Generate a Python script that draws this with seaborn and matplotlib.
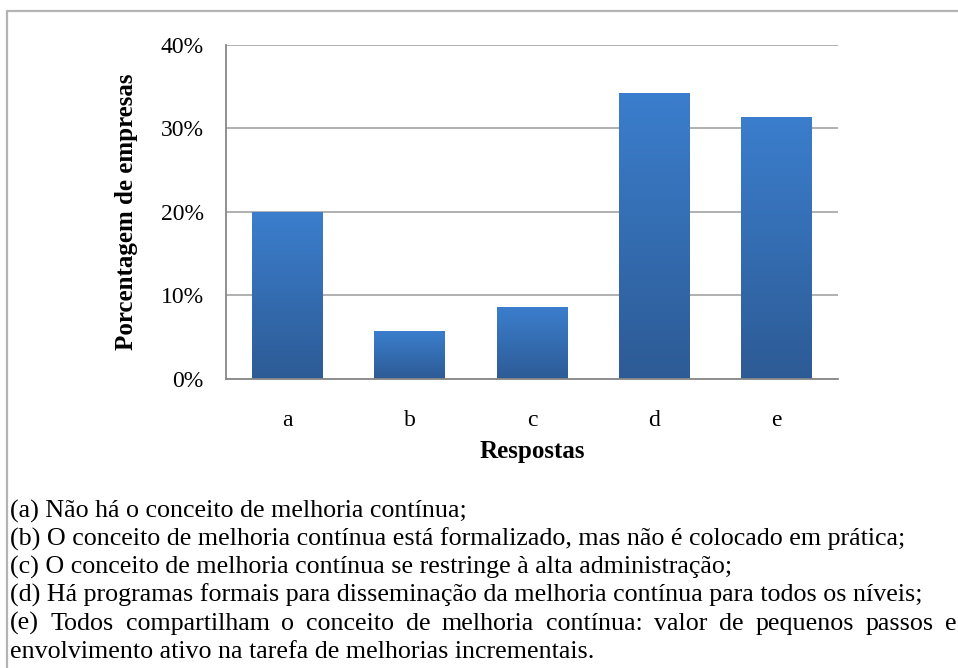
import numpy as np
import pandas as pd
import matplotlib
matplotlib.use("Agg")
import matplotlib.pyplot as plt
import seaborn as sns
from matplotlib.colors import LinearSegmentedColormap
from matplotlib.lines import Line2D
from matplotlib.ticker import FuncFormatter

# Dados do gráfico
respostas = ["a", "b", "c", "d", "e"]
percentuais = [20.0, 5.7, 8.6, 34.3, 31.4]
marcas_y = [0, 10, 20, 30, 40]

legenda = [
    "(a) Não há o conceito de melhoria contínua;",
    "(b) O conceito de melhoria contínua está formalizado, mas não é colocado em prática;",
    "(c) O conceito de melhoria contínua se restringe à alta administração;",
    "(d) Há programas formais para disseminação da melhoria contínua para todos os níveis;",
    "(e) Todos compartilham o conceito de melhoria contínua: valor de pequenos passos e",
    "envolvimento ativo na tarefa de melhorias incrementais.",
]

sns.set_theme(style="white")
plt.rcParams["font.family"] = ["Liberation Serif", "DejaVu Serif"]
plt.rcParams["text.color"] = "black"
plt.rcParams["axes.labelcolor"] = "black"

W, H = 958, 668
fig = plt.figure(figsize=(W / 100, H / 100), dpi=100)
ax = fig.add_axes([226 / W, 1 - 379 / H, (838 - 226) / W, (379 - 45) / H])

df = pd.DataFrame({"Respostas": respostas, "Percentual": percentuais})
sns.barplot(data=df, x="Respostas", y="Percentual", color="#3a78c5",
            width=0.58, ax=ax, zorder=3, edgecolor="none")

# gradiente vertical em cada barra
cmap = LinearSegmentedColormap.from_list("azul", ["#2d5b95", "#3b7ecd"])
grad = np.linspace(0, 1, 256).reshape(-1, 1)
for patch in list(ax.patches):
    x0 = patch.get_x()
    w = patch.get_width()
    h = patch.get_height()
    im = ax.imshow(grad, extent=[x0, x0 + w, 0, h], origin="lower",
                   aspect="auto", cmap=cmap, zorder=3)
    im.set_clip_path(patch)
    patch.set_facecolor("none")

ax.set_xlim(-0.5, 4.5)
ax.set_ylim(0, 40)
ax.set_yticks(marcas_y)
ax.yaxis.set_major_formatter(FuncFormatter(lambda v, p: f"{v:.0f}%"))

ax.set_axisbelow(True)
ax.yaxis.grid(True, color="#b0b0b0", lw=1.4)
ax.xaxis.grid(False)
for s in ["top", "right"]:
    ax.spines[s].set_visible(False)
for s in ["left", "bottom"]:
    ax.spines[s].set_color("#888888")
    ax.spines[s].set_linewidth(1.3)
ax.spines["bottom"].set_zorder(4)

ax.tick_params(axis="both", length=0, labelsize=17, colors="black")
ax.tick_params(axis="y", pad=16)
ax.tick_params(axis="x", pad=22)

ax.set_xlabel("Respostas", fontsize=18, fontweight="bold", labelpad=7, color="black")
ax.set_ylabel("Porcentagem de empresas", fontsize=18, fontweight="bold", labelpad=16,
              color="black")

# moldura
cor_moldura = "#b4b4b4"
fig.add_artist(Line2D([7 / W, 7 / W], [0, 1 - 11 / H], transform=fig.transFigure,
                      color=cor_moldura, lw=1.6))
fig.add_artist(Line2D([7 / W, 1], [1 - 11 / H, 1 - 11 / H], transform=fig.transFigure,
                      color=cor_moldura, lw=1.6))

# legenda textual
fs = 18.7
x_ini = 10
base0 = 518
passo = 28
fig.canvas.draw()
renderer = fig.canvas.get_renderer()
for i, linha in enumerate(legenda):
    yb = 1 - (base0 + i * passo) / H
    if i == 4:
        palavras = linha.split(" ")
        arts = [fig.text(0, yb, p, fontsize=fs, va="baseline", ha="left", color="black")
                for p in palavras]
        larg = [a.get_window_extent(renderer).width for a in arts]
        x_fim = 957
        gap = (x_fim - x_ini - sum(larg)) / (len(palavras) - 1)
        x = x_ini
        for a, lw_ in zip(arts, larg):
            a.set_x(x / W)
            x += lw_ + gap
    else:
        fig.text(x_ini / W, yb, linha, fontsize=fs, va="baseline", ha="left", color="black")

fig.savefig("out.png", dpi=100)
